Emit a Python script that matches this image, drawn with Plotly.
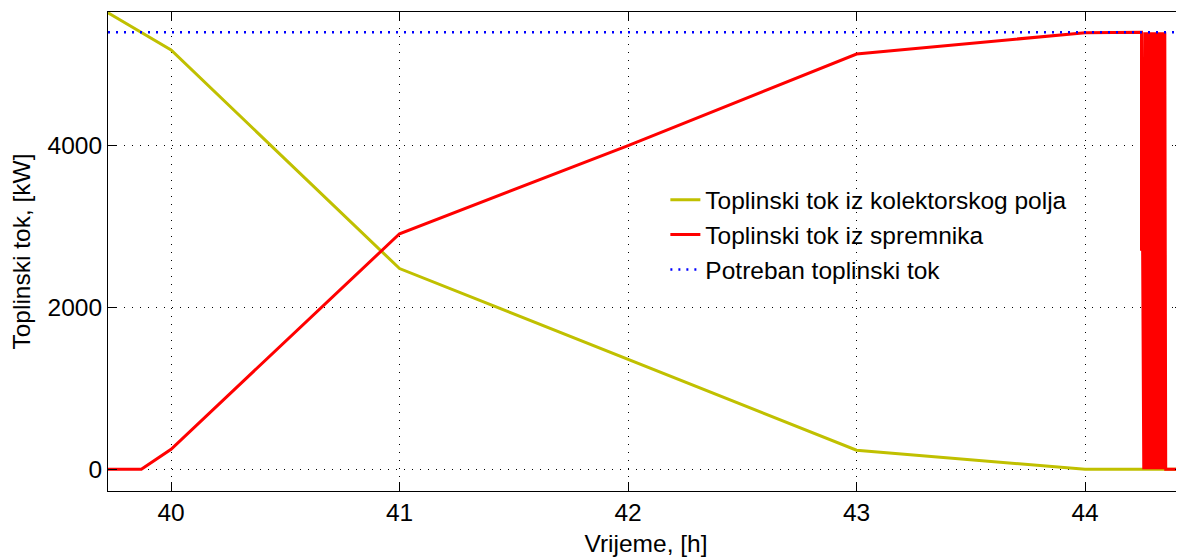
import plotly.graph_objects as go

# Data
t_kol = [39.724, 40.0, 41.0, 43.0, 44.0, 44.433]
q_kol = [5640, 5180, 2480, 236, 0, 0]

t_spr = [39.724, 39.87, 40.0, 41.0, 42.0, 43.0, 44.0, 44.247, 44.247, 44.247,
         44.257, 44.261, 44.265, 44.269, 44.273, 44.277, 44.281, 44.285, 44.289,
         44.293, 44.297, 44.301, 44.305, 44.309, 44.313, 44.317, 44.321, 44.325,
         44.329, 44.333, 44.337, 44.341, 44.345, 44.349, 44.353, 44.433]
q_spr = [0, 0, 248, 2910, 4000, 5130, 5395, 5400, 2700, 5400,
         0, 5400, 0, 5400, 0, 5400, 0, 5400, 0,
         5400, 0, 5400, 0, 5400, 0, 5400, 0, 5400,
         0, 5400, 0, 5400, 0, 5400, 0, 0]

t_pot = [39.724, 44.433]
q_pot = [5400, 5400]

x_ticks = [40, 41, 42, 43, 44]
y_ticks = [0, 2000, 4000]

FONT = "Liberation Sans, Arial, sans-serif"
FS = 24.5

fig = go.Figure()
fig.add_trace(go.Scatter(x=t_kol, y=q_kol, mode="lines",
                         name="Toplinski tok iz kolektorskog polja",
                         line=dict(color="rgb(192,192,0)", width=3)))
fig.add_trace(go.Scatter(x=t_spr, y=q_spr, mode="lines",
                         name="Toplinski tok iz spremnika",
                         line=dict(color="#ff0000", width=3)))
fig.add_trace(go.Scatter(x=t_pot, y=q_pot, mode="lines",
                         name="Potreban toplinski tok",
                         line=dict(color="#0000ff", width=2.5, dash="2px,6px")))

axis_common = dict(
    showline=True, linecolor="black", linewidth=1, mirror="ticks",
    ticks="inside", ticklen=9, tickcolor="black", tickwidth=1,
    showgrid=True, gridcolor="black", gridwidth=1, griddash="1px,7px",
    zeroline=False, tickfont=dict(family=FONT, size=FS, color="black"),
)

fig.update_xaxes(range=[39.724, 44.433], tickvals=x_ticks,
                 ticktext=[str(v) for v in x_ticks],
                 title=dict(text="Vrijeme, [h]", standoff=9,
                            font=dict(family=FONT, size=FS, color="black")),
                 **axis_common)
fig.update_yaxes(range=[-268, 5650], tickvals=y_ticks,
                 ticktext=[str(v) for v in y_ticks],
                 title=dict(text="Toplinski tok, [kW]", standoff=12,
                            font=dict(family=FONT, size=FS, color="black")),
                 **axis_common)

# page body adds an 8px offset, so the figure is sized to end at the window edge
fig.update_layout(
    width=1176, height=552,
    margin=dict(l=100, r=0, t=4, b=69, autoexpand=False),
    plot_bgcolor="white", paper_bgcolor="white",
    font=dict(family=FONT, size=FS, color="black"),
    legend=dict(x=0.518, y=0.655, xanchor="left", yanchor="top",
                bgcolor="rgba(0,0,0,0)", borderwidth=0,
                font=dict(family=FONT, size=FS, color="black"),
                tracegroupgap=0),
    showlegend=True,
)

fig.write_html("out.html")
